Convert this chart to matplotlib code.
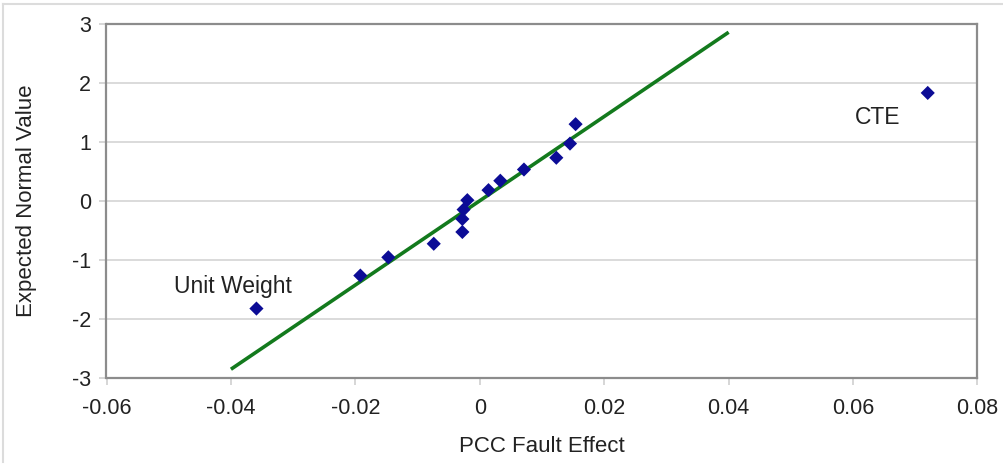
import matplotlib
matplotlib.use("Agg")
import matplotlib.pyplot as plt
from matplotlib.lines import Line2D

plt.rcParams['font.family'] = ['Liberation Sans', 'DejaVu Sans']
plt.rcParams['axes.unicode_minus'] = False

# PCC fault effects and their expected normal scores
fault_effect = [-0.0359, -0.0192, -0.0147, -0.0074, -0.0028, -0.0028, -0.0026,
                -0.0020, 0.0014, 0.0033, 0.0071, 0.0123, 0.0145, 0.0154, 0.0720]
normal_value = [-1.83, -1.27, -0.96, -0.73, -0.53, -0.31, -0.15,
                0.01, 0.18, 0.34, 0.53, 0.73, 0.97, 1.30, 1.83]

# reference line through the bulk of the effects
line_x = [-0.04, 0.04]
line_y = [-2.86, 2.86]

x_ticks = [-0.06, -0.04, -0.02, 0, 0.02, 0.04, 0.06, 0.08]
x_tick_labels = ["-0.06", "-0.04", "-0.02", "0", "0.02", "0.04", "0.06", "0.08"]
y_ticks = [-3, -2, -1, 0, 1, 2, 3]

fig = plt.figure(figsize=(10.04, 4.66), dpi=100)
ax = fig.add_axes([106.5 / 1004, 1 - 377.5 / 466, 871 / 1004, 353.5 / 466])

ax.set_xlim(-0.06, 0.08)
ax.set_ylim(-3, 3)
ax.set_xticks(x_ticks)
ax.set_xticklabels(x_tick_labels)
ax.set_yticks(y_ticks)

ax.grid(axis='y', color='#d4d4d4', linewidth=1.2)
ax.set_axisbelow(True)

ax.plot(line_x, line_y, color='#137a1d', linewidth=2.6, solid_capstyle='butt', zorder=2)
ax.scatter(fault_effect, normal_value, marker='D', s=52, color='#0c0c96',
           edgecolors='none', zorder=3)

ax.text(-0.0491, -1.45, "Unit Weight", fontsize=16.5, color='#222222',
        ha='left', va='center')
ax.text(0.0639, 1.41, "CTE", fontsize=16.5, color='#222222', ha='center', va='center')

for s in ax.spines.values():
    s.set_color('#8c8c8c')
    s.set_linewidth(1.6)

ax.tick_params(axis='both', colors='#cfcfcf', labelcolor='#222222',
               labelsize=15.5, length=5, width=1.2)
ax.tick_params(axis='x', pad=10)
ax.tick_params(axis='y', pad=6)

ax.set_xlabel("PCC Fault Effect", fontsize=16, color='#222222', labelpad=12)
ax.set_ylabel("Expected Normal Value", fontsize=16, color='#222222', labelpad=25)

# thin frame on the left and top edges of the figure
fig.add_artist(Line2D([3.5 / 1004, 3.5 / 1004], [0.008, 1 - 4 / 466],
                      transform=fig.transFigure, color='#dcdcdc', linewidth=1.5))
fig.add_artist(Line2D([3.5 / 1004, 1.0], [1 - 4 / 466, 1 - 4 / 466],
                      transform=fig.transFigure, color='#dcdcdc', linewidth=1.5))

fig.savefig("out.png", dpi=100, facecolor='white')
